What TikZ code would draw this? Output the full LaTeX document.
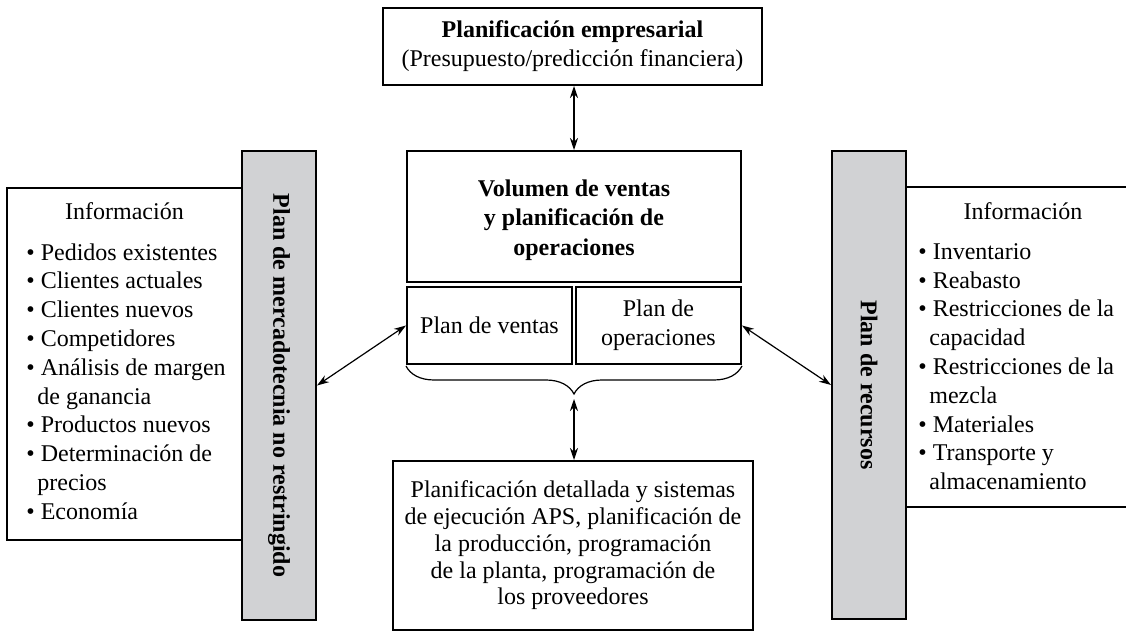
\documentclass[tikz,border=0pt]{standalone}
\usepackage{fontspec}
\setmainfont{Liberation Serif}
\usetikzlibrary{arrows.meta, positioning, calc, decorations.pathreplacing}
\definecolor{bar}{HTML}{D1D2D4}

\begin{document}
\begin{tikzpicture}[
    x=0.5pt, y=-0.5pt,
    >={Stealth[length=6pt, width=4pt]},
    font=\fontsize{12}{14.4}\selectfont,
    box/.style={draw, line width=1pt, align=center, inner sep=0pt},
    side/.style={box, fill=bar, minimum width=37pt, minimum height=234pt},
    vlab/.style={rotate=-90, font=\fontsize{12}{14.4}\selectfont\bfseries},
    lst/.style={align=left, anchor=north west, inner sep=0pt},
    link/.style={<->, line width=0.6pt},
]
\useasboundingbox (0,0) rectangle (1126,631);

\node[box, minimum width=189.5pt, minimum height=38.5pt] (E) at (572.5,46.5)
    {\textbf{Planificación empresarial}\\ (Presupuesto/predicción financiera)};
\node[box, minimum width=167pt, minimum height=65.5pt,
      font=\fontsize{12}{14.6}\selectfont\bfseries] (S) at (574,216.5)
    {\rule{0pt}{12pt}Volumen de ventas\\ y planificación de\\ operaciones};
\node[box, minimum width=82.5pt, minimum height=38.5pt] (V) at (489.5,325.5) {Plan de ventas};
\node[box, minimum width=82.5pt, minimum height=38.5pt] (O) at (658.5,325.5) {Plan de\\ operaciones};
\node[box, minimum width=180pt, minimum height=84.5pt,
      font=\fontsize{12}{13.4}\selectfont] (D) at (573,545.5)
    {Planificación detallada y sistemas\\ de ejecución APS, planificación de\\ la producción, programación\\
     de la planta, programación de\\ los proveedores};

% left side
\node[box, minimum width=117.5pt, minimum height=176pt] (IL) at (124.5,364) {};
\node[side] (M) at (279,385.5) {};
\node[vlab] (Mt) at (M) {Plan de mercadotecnia no restringido};
\node[anchor=base] (IL0) at (124.5,220) {Información};
\node[lst] (IL1) at (26,243)
    {\textbullet\ Pedidos existentes\\ \textbullet\ Clientes actuales\\ \textbullet\ Clientes nuevos\\
     \textbullet\ Competidores\\ \textbullet\ Análisis de margen\\ \hspace*{5.5pt}de ganancia\\
     \textbullet\ Productos nuevos\\ \textbullet\ Determinación de\\ \hspace*{5.5pt}precios\\
     \textbullet\ Economía};

% right side
\node[box, minimum width=117.5pt, minimum height=160pt] (IR) at (1023.5,347) {};
\node[side] (R) at (869,385) {};
\node[vlab] (Rt) at (R) {Plan de recursos};
\node[anchor=base] (IR0) at (1023,220) {Información};
\node[lst] (IR1) at (918,243)
    {\textbullet\ Inventario\\ \textbullet\ Reabasto\\ \textbullet\ Restricciones de la\\
     \hspace*{5.5pt}capacidad\\ \textbullet\ Restricciones de la\\ \hspace*{5.5pt}mezcla\\
     \textbullet\ Materiales\\ \textbullet\ Transporte y\\ \hspace*{5.5pt}almacenamiento};

\draw[decorate, decoration={brace, mirror, amplitude=14pt}, line width=0.6pt]
    ([yshift=-0.5pt]V.south west) -- ([yshift=-0.5pt]O.south east);
\coordinate (B) at (574,399);

\draw[link] (E.south -| S.north) -- (S.north);
\draw[link] (B) -- (D.north -| B);
\draw[link] (M.east) -- (V.west);
\draw[link] (O.east) -- (R.west);

\end{tikzpicture}
\end{document}
